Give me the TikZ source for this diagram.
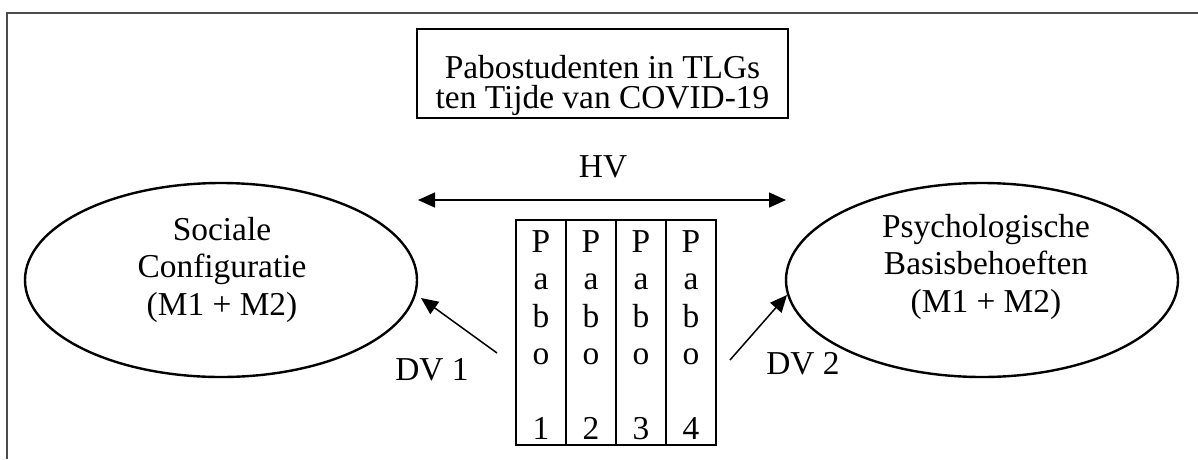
\documentclass[tikz,border=0pt]{standalone}
\usepackage{fontspec}
\setmainfont{Liberation Serif}
\usetikzlibrary{arrows.meta,shapes.geometric}
\begin{document}
\begin{tikzpicture}[x=1pt,y=-1pt,
  txt/.style={font=\fontsize{33.4}{37.5}\selectfont, inner sep=0pt, align=center},
  titletxt/.style={font=\fontsize{33.4}{30}\selectfont, inner sep=0pt, align=center},
  oval/.style={draw, ellipse, line width=2.4pt, minimum width=392pt, minimum height=194pt, inner sep=0pt},
  col/.style={draw, rectangle, line width=1.5pt, minimum width=50pt, minimum height=225pt, inner sep=0pt},
  titlebox/.style={draw, rectangle, line width=1.6pt, minimum width=371pt, minimum height=89pt, inner sep=0pt},
  arr/.style={line width=1.5pt, -{Triangle[length=17pt,width=15pt]}},
  dblarr/.style={line width=1.5pt, {Triangle[length=17pt,width=15pt]}-{Triangle[length=17pt,width=15pt]}},
  frame/.style={draw=black!70, line width=2.2pt}
]
\useasboundingbox (0,0) rectangle (1198,459);

% partial outer frame
\draw[frame] (1198,13) -- (7,13) -- (7,459);

% title
\node[titlebox] (tbox) at (602.5,73.5) {};
\node[titletxt, anchor=north] (title) at (602.5,55) {Pabostudenten in TLGs\\ten Tijde van COVID-19};

% the two constructs
\node[oval] (lell) at (221,280) {};
\node[txt, anchor=north] (ltxt) at (222,217) {Sociale\\Configuratie\\(M1 + M2)};
\node[oval] (rell) at (982,280) {};
\node[txt, anchor=north] (rtxt) at (986,214) {Psychologische\\Basisbehoeften\\(M1 + M2)};

% HV relation
\node[txt, anchor=base] (hv) at (603,177) {HV};
\coordinate (hvl) at (418,200);
\coordinate (hvr) at (786,200);
\draw[dblarr] (hvl) -- (hvr);

% four pabo columns
\node[col] (c1) at (541,332.5) {};
\node[col] (c2) at (591,332.5) {};
\node[col] (c3) at (641,332.5) {};
\node[col] (c4) at (691,332.5) {};
\foreach \i/\x in {1/541,2/591,3/641,4/691}{
  \node[txt, anchor=north] (p\i) at (\x,230) {P\\a\\b\\o\\[37.5pt]\i};
}

% DV arrows
\coordinate (d1s) at (497,353);
\coordinate (d1e) at (421,298);
\draw[arr] (d1s) -- (d1e);
\node[txt, anchor=base] (dv1) at (432,380) {DV 1};

\coordinate (d2s) at (730,360);
\coordinate (d2e) at (787,295);
\draw[arr] (d2s) -- (d2e);
\node[txt, anchor=base] (dv2) at (803,374) {DV 2};
\end{tikzpicture}
\end{document}
